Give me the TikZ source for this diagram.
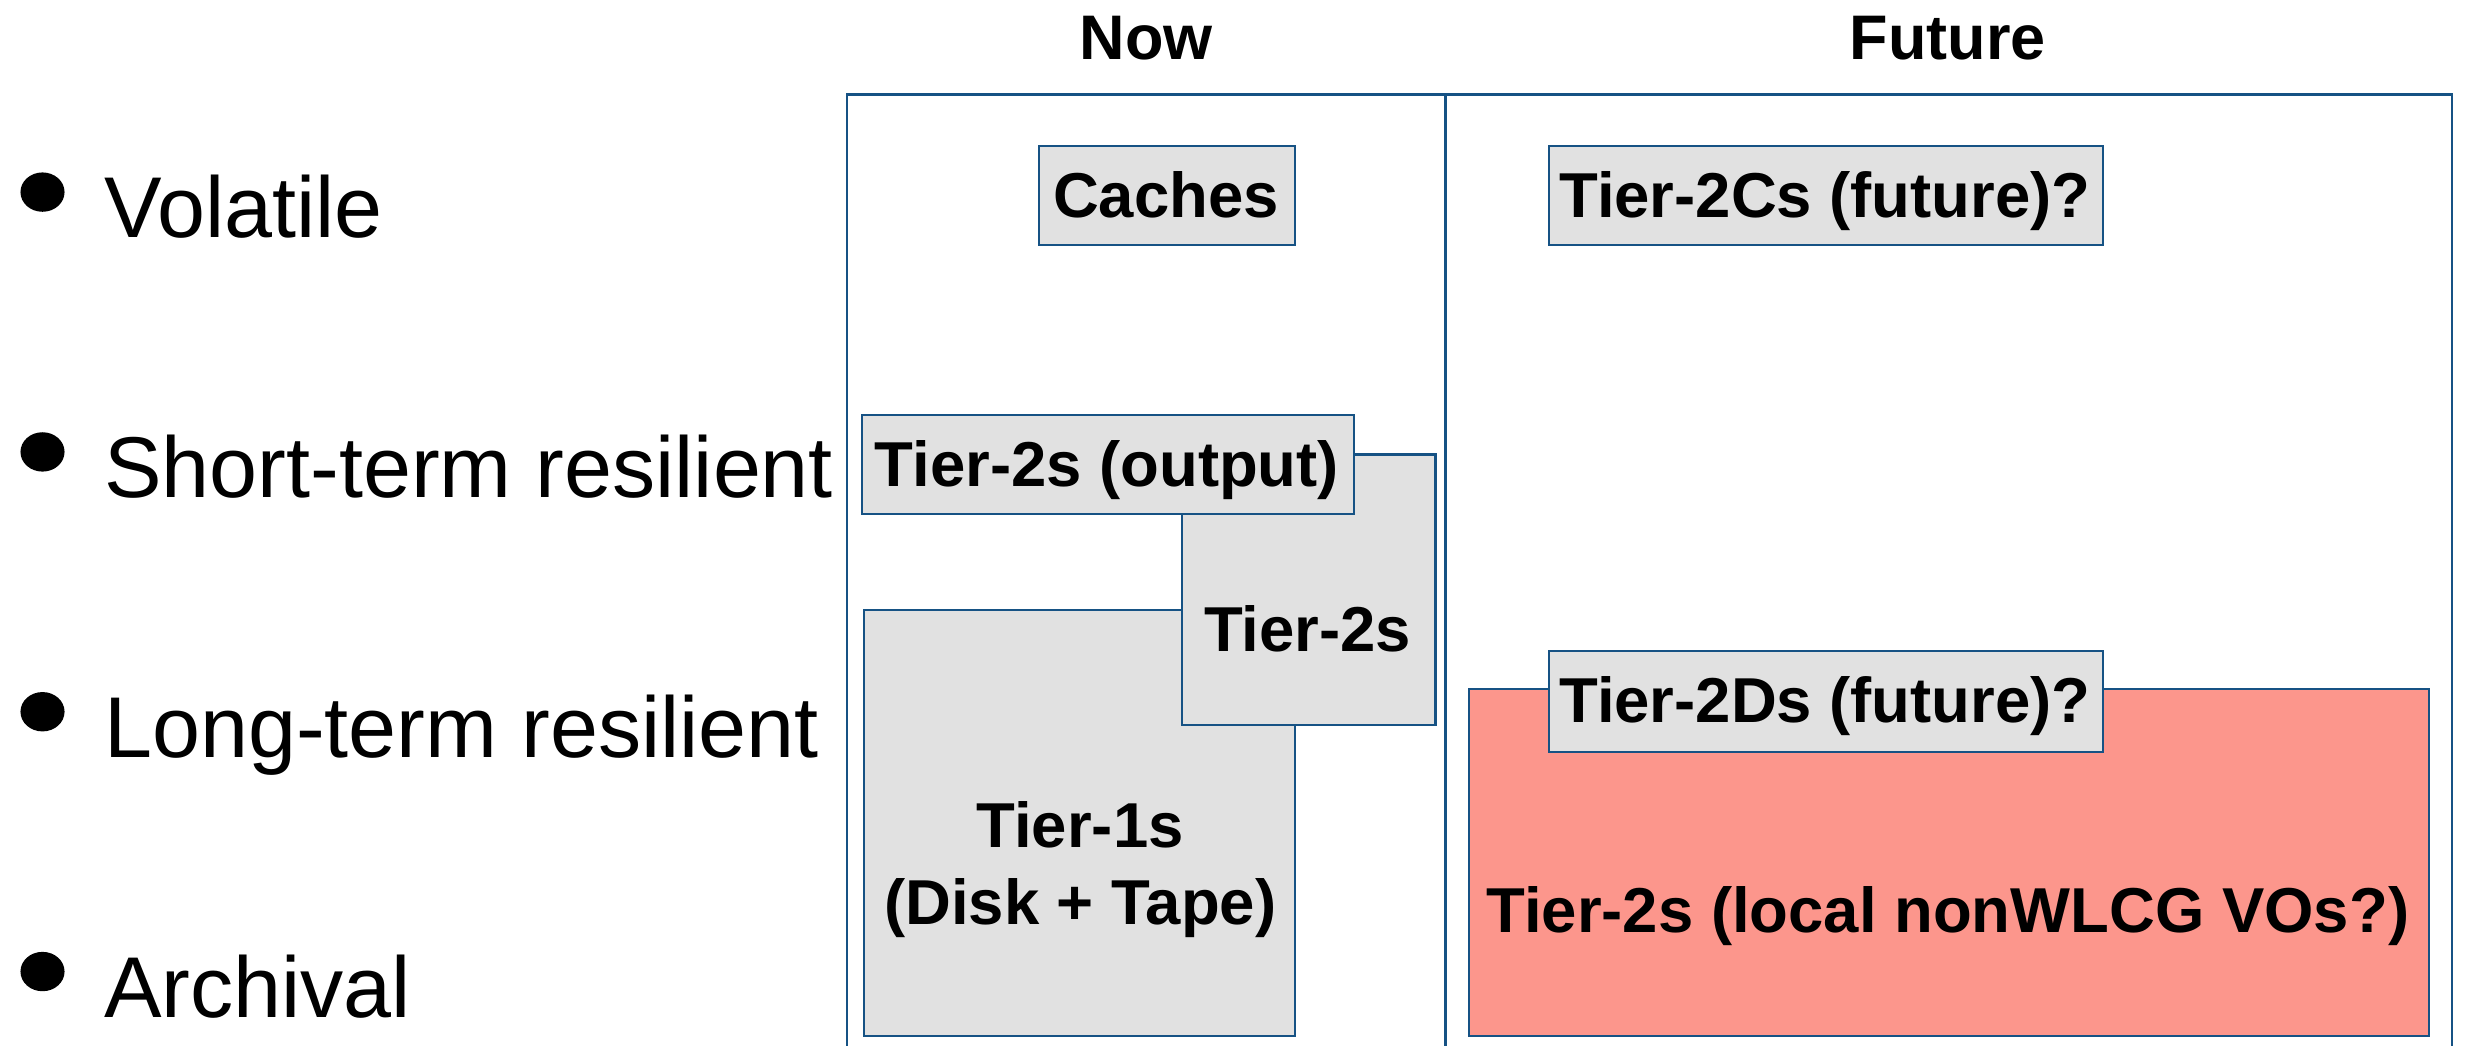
\documentclass[tikz,border=0pt]{standalone}
\usepackage{fontspec}
\setmainfont{Liberation Sans}
\definecolor{frameblue}{RGB}{22,82,132}
\definecolor{boxgray}{RGB}{225,225,225}
\definecolor{boxpink}{RGB}{252,150,140}
\tikzset{
  frameline/.style={draw=frameblue, line width=1.3pt},
  graybox/.style={frameline, fill=boxgray, inner sep=0pt, anchor=north west},
  pinkbox/.style={frameline, fill=boxpink, inner sep=0pt, anchor=north west},
  boxtext/.style={anchor=base, inner sep=0pt, font=\fontsize{40.3}{48}\selectfont\bfseries},
  headtext/.style={anchor=base, inner sep=0pt, font=\fontsize{40}{48}\selectfont\bfseries},
  listtext/.style={anchor=base west, inner sep=0pt, font=\fontsize{54.8}{60}\selectfont},
  bulletdot/.style={fill=black}
}
\begin{document}
\begin{tikzpicture}[x=1pt,y=-1pt]
\useasboundingbox (0,0) rectangle (1568,664);
% headers
\node[headtext] (now) at (728,38) {Now};
\node[headtext] (future) at (1237,38) {Future};
% frame
\coordinate (fbl) at (538,680);
\coordinate (ftl) at (538,60);
\coordinate (ftr) at (1557,60);
\coordinate (fbr) at (1557,680);
\coordinate (dtop) at (918,60);
\coordinate (dbot) at (918,680);
\draw[frameline] (fbl) -- (ftl) -- (ftr) -- (fbr);
\draw[frameline] (dtop) -- (dbot);
% list
\fill[bulletdot] (27,122) ellipse (14 and 12.5);
\fill[bulletdot] (27,287) ellipse (14 and 12.5);
\fill[bulletdot] (27,452) ellipse (14 and 12.5);
\fill[bulletdot] (27,617) ellipse (14 and 12.5);
\node[listtext] (vol) at (66,151) {Volatile};
\node[listtext] (short) at (66,316) {Short-term resilient};
\node[listtext] (long) at (66,481) {Long-term resilient};
\node[listtext] (arch) at (66,646) {Archival};
% Now column
\node[graybox, minimum width=163pt, minimum height=63pt] (caches) at (659,92) {};
\node[boxtext] (cachest) at (740.5,138) {Caches};
\node[graybox, minimum width=274pt, minimum height=270pt] (tier1) at (548,387) {};
\node[boxtext] (tier1a) at (686,538) {Tier-1s};
\node[boxtext] (tier1b) at (686,587) {(Disk + Tape)};
\node[graybox, minimum width=161pt, minimum height=172pt] (tier2) at (750,288) {};
\node[boxtext] (tier2t) at (830.5,414) {Tier-2s};
\node[graybox, minimum width=312pt, minimum height=63pt] (tier2out) at (547,263) {};
\node[boxtext] (tier2outt) at (703,309) {Tier-2s (output)};
% Future column
\node[graybox, minimum width=352pt, minimum height=63pt] (t2c) at (983,92) {};
\node[boxtext] (t2ct) at (1159,138) {Tier-2Cs (future)?};
\node[pinkbox, minimum width=610pt, minimum height=220pt] (local) at (932,437) {};
\node[boxtext] (localt) at (1237,592) {Tier-2s (local nonWLCG VOs?)};
\node[graybox, minimum width=352pt, minimum height=64pt] (t2d) at (983,413) {};
\node[boxtext] (t2dt) at (1159,459) {Tier-2Ds (future)?};
\end{tikzpicture}
\end{document}
